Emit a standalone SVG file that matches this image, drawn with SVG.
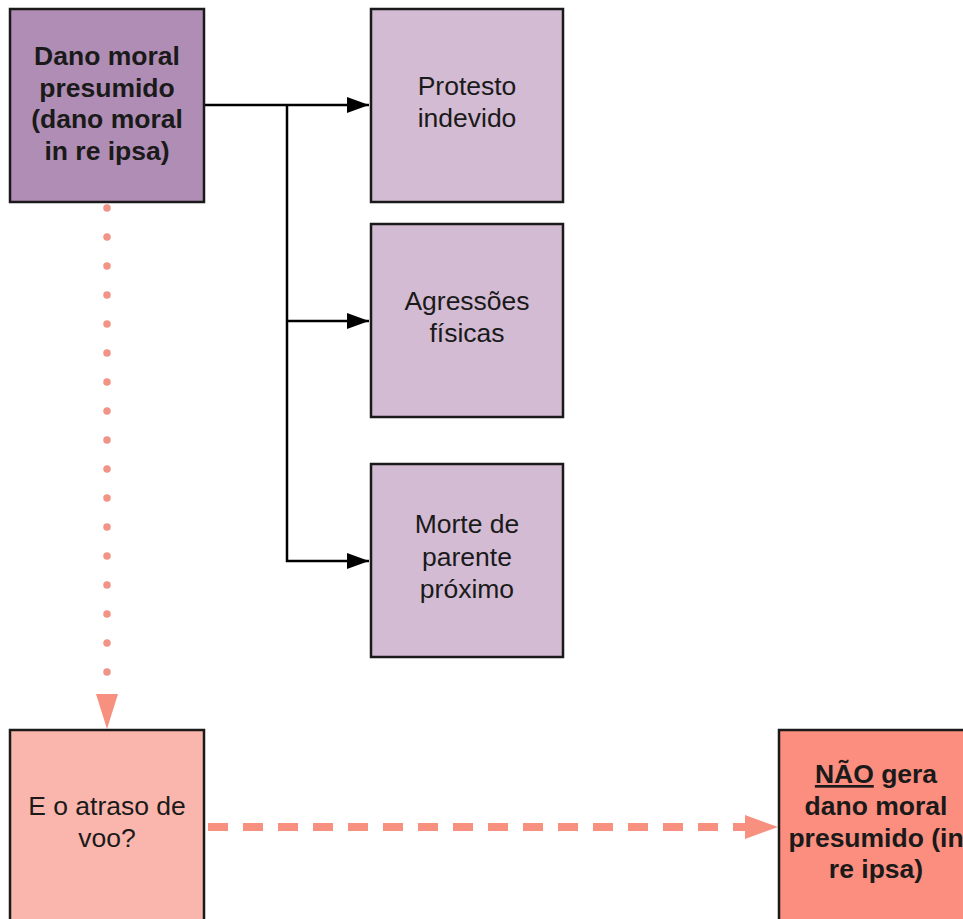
<svg xmlns="http://www.w3.org/2000/svg" width="963" height="919" viewBox="0 0 963 919">
<style>
.box{stroke:#1a1a1a;stroke-width:2.5}
.t{font-family:"Liberation Sans",Arial,sans-serif;font-size:26.5px;fill:#1a1a1a;text-anchor:middle}
.b{font-weight:bold}
.blk{stroke:#000;stroke-width:2.5;fill:none}
</style>
<defs>
<marker id="ab" markerWidth="22" markerHeight="16" refX="22" refY="8" orient="auto" markerUnits="userSpaceOnUse">
<path d="M0,0 L22,8 L0,16 Z" fill="#000"/>
</marker>
</defs>
<rect width="963" height="919" fill="#fff"/>
<g id="connectors">
<path class="blk" d="M204,105 H369" marker-end="url(#ab)"/>
<path class="blk" d="M287,105 V561 H369" marker-end="url(#ab)"/>
<path class="blk" d="M287,321 H369" marker-end="url(#ab)"/>
<line x1="107" y1="208" x2="107" y2="690" stroke="#f29485" stroke-width="7.5" stroke-linecap="round" stroke-dasharray="0 29"/>
<path d="M96,694 L118,694 L107,729 Z" fill="#f7907f"/>
<line x1="208" y1="827" x2="745" y2="827" stroke="#f7907f" stroke-width="8" stroke-dasharray="20 15"/>
<path d="M745,815 L778,827 L745,839 Z" fill="#f7907f"/>
</g>
<g id="n1">
<rect class="box" x="10" y="9" width="194" height="193" fill="#b08db4"/>
<text class="t b" x="107" y="65">Dano moral</text>
<text class="t b" x="107" y="97">presumido</text>
<text class="t b" x="107" y="128">(dano moral</text>
<text class="t b" x="107" y="160">in re ipsa)</text>
</g>
<g id="n2">
<rect class="box" x="371" y="9" width="192" height="193" fill="#d3bbd3"/>
<text class="t" x="467" y="95">Protesto</text>
<text class="t" x="467" y="127">indevido</text>
</g>
<g id="n3">
<rect class="box" x="371" y="224" width="192" height="193" fill="#d3bbd3"/>
<text class="t" x="467" y="310">Agressões</text>
<text class="t" x="467" y="342">físicas</text>
</g>
<g id="n4">
<rect class="box" x="371" y="464" width="192" height="193" fill="#d3bbd3"/>
<text class="t" x="467" y="533">Morte de</text>
<text class="t" x="467" y="566">parente</text>
<text class="t" x="467" y="598">próximo</text>
</g>
<g id="n5">
<rect class="box" x="10" y="730" width="194" height="200" fill="#fab6ad"/>
<text class="t" x="107" y="815">E o atraso de</text>
<text class="t" x="107" y="847">voo?</text>
</g>
<g id="n6">
<rect class="box" x="779" y="730" width="196" height="200" fill="#fb8e7e"/>
<text class="t b" x="876" y="783"><tspan text-decoration="underline">NÃO</tspan> gera</text>
<text class="t b" x="876" y="815">dano moral</text>
<text class="t b" x="876" y="847">presumido (in</text>
<text class="t b" x="876" y="878">re ipsa)</text>
</g>
</svg>
